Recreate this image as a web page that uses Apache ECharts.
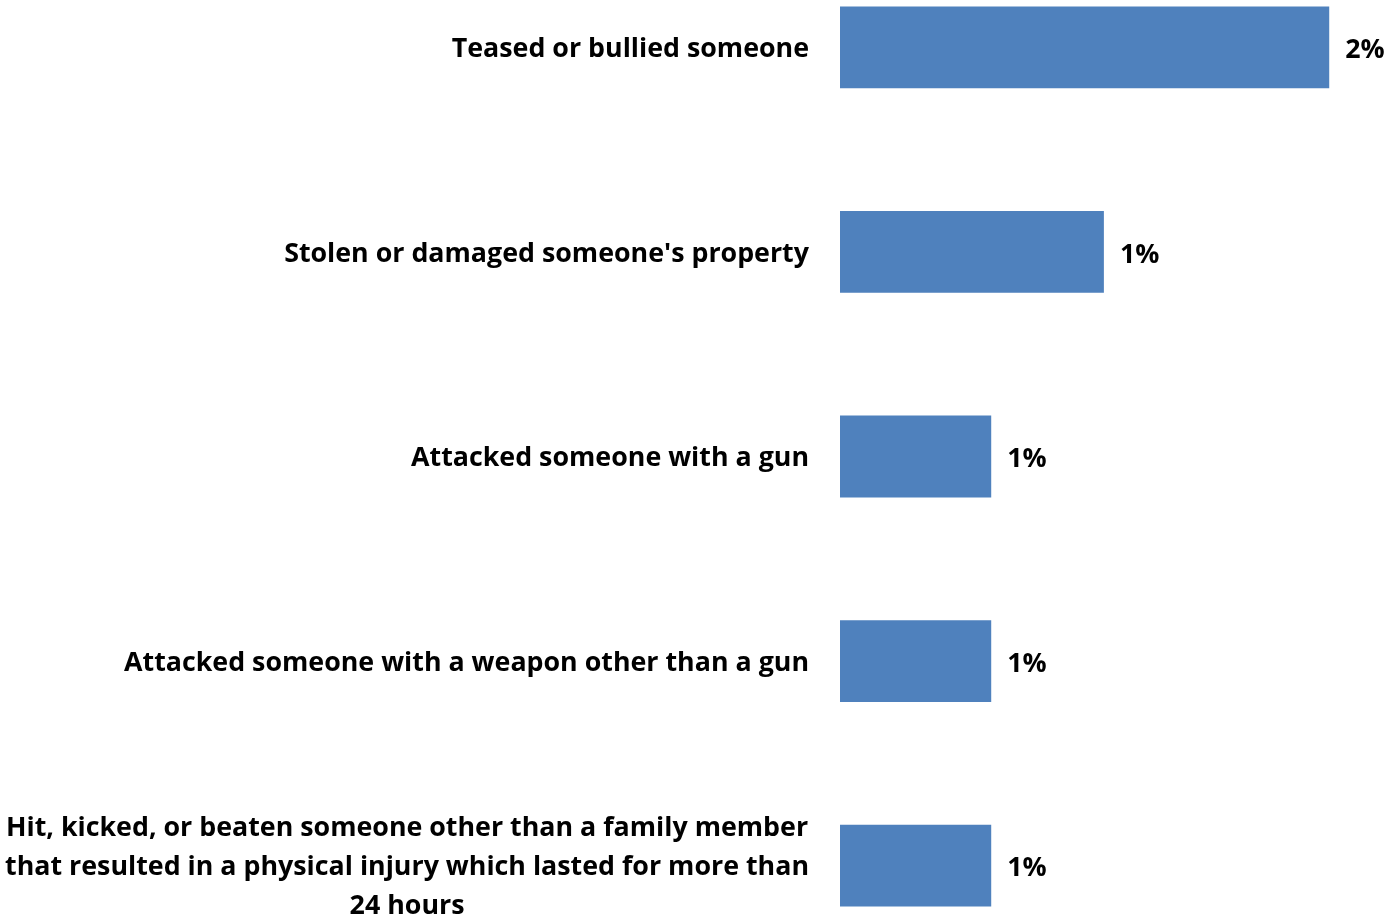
<!DOCTYPE html>
<html>
<head>
<meta charset="utf-8">
<script src="https://cdn.jsdelivr.net/npm/echarts@6/dist/echarts.min.js"></script>
<style>
html,body{margin:0;padding:0;background:#fff;}
#chart{width:1389px;height:917px;}
</style>
</head>
<body>
<div id="chart"></div>
<script>
const categories = [
  "Teased or bullied someone",
  "Stolen or damaged someone's property",
  "Attacked someone with a gun",
  "Attacked someone with a weapon other than a gun",
  "Hit, kicked, or beaten someone other than a family member\nthat resulted in a physical injury which lasted for more than\n24 hours"
];
const values = [1.65, 0.89, 0.51, 0.51, 0.51];
const valueLabels = ["2%", "1%", "1%", "1%", "1%"];

const FONT = "Open Sans";
const chart = echarts.init(document.getElementById('chart'));
chart.setOption({
  animation: false,
  grid: { left: 840, top: -55, width: 593, height: 1023, containLabel: false, outerBoundsMode: 'none' },
  xAxis: {
    type: 'value', min: 0, max: 2,
    show: false
  },
  yAxis: {
    type: 'category',
    inverse: true,
    data: categories,
    axisLine: { show: false },
    axisTick: { show: false },
    axisLabel: {
      margin: 31,
      formatter: v => '{c|' + v + '}',
      rich: {
        c: {
          fontFamily: FONT, fontWeight: 'bold', fontSize: 26.8, color: '#000',
          lineHeight: 39, align: 'center', padding: [4, 0, 0, 0]
        }
      }
    }
  },
  series: [{
    type: 'bar',
    data: values,
    barCategoryGap: '60%',
    itemStyle: { color: '#4F81BD' },
    label: {
      show: true, position: 'right', distance: 16,
      offset: [0, 3],
      formatter: p => valueLabels[p.dataIndex],
      fontFamily: FONT, fontWeight: 'bold', fontSize: 26.8, color: '#000'
    }
  }]
});
</script>
</body>
</html>
